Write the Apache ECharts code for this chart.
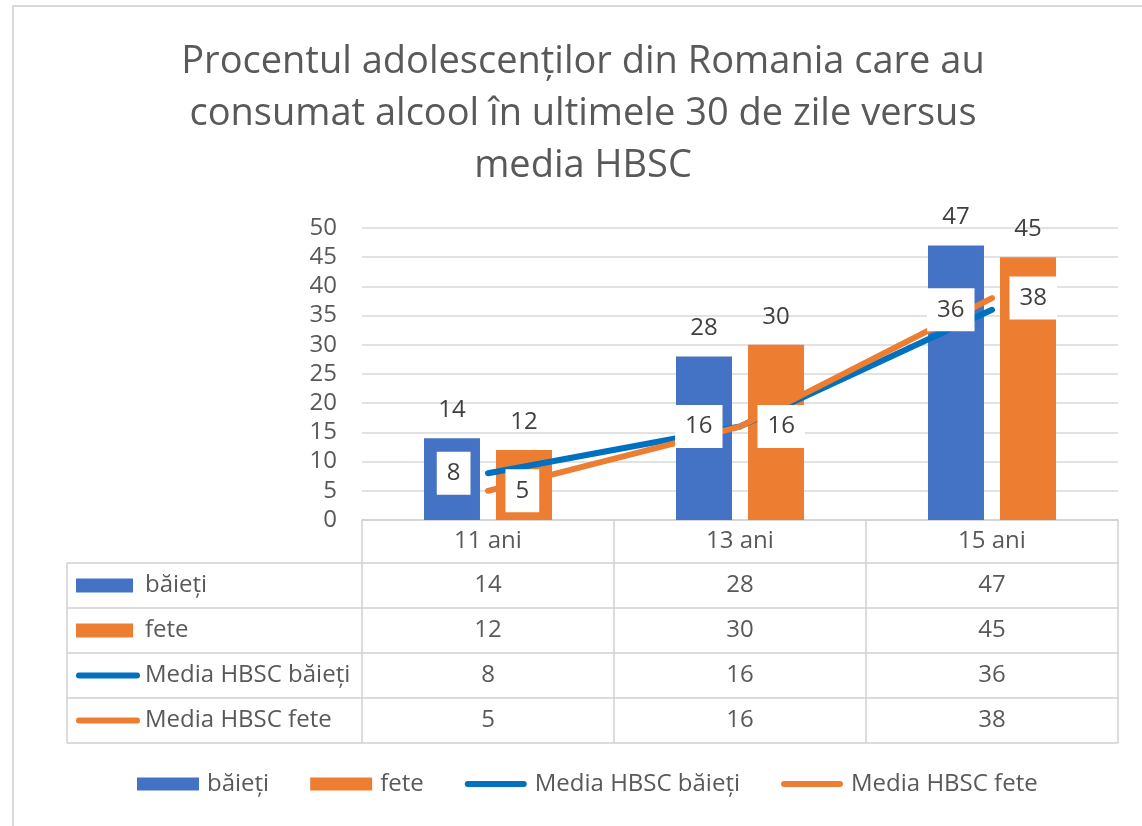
<!DOCTYPE html>
<html>
<head>
<meta charset="utf-8">
<script src="https://cdn.jsdelivr.net/npm/echarts@6/dist/echarts.min.js"></script>
<style>html,body{margin:0;padding:0;background:#fff}#c{width:1142px;height:826px}</style>
</head>
<body>
<div id="c"></div>
<script>
const titleText = 'Procentul adolescenților din Romania care au\nconsumat alcool în ultimele 30 de zile versus\nmedia HBSC';
const categories = ['11 ani', '13 ani', '15 ani'];
const seriesNames = ['băieți', 'fete', 'Media HBSC băieți', 'Media HBSC fete'];
const baieti = [14, 28, 47];
const fete = [12, 30, 45];
const hbscBaieti = [8, 16, 36];
const hbscFete = [5, 16, 38];
const yMin = 0, yMax = 50, yStep = 5;

const FONT = '"Open Sans", "Noto Sans", sans-serif';
const BLUE = '#4472C4', ORANGE = '#ED7D31', LBLUE = '#0070C0';
const GRIDC = '#D9D9D9', TBLC = '#D0D0D0', TXT = '#595959', LBL = '#404040';
const lineIcon = 'path://M0,0 M62,13 M3,3.5 h56 a3,3 0 0 1 0,6 h-56 a3,3 0 0 1 0,-6 z';

const chart = echarts.init(document.getElementById('c'));

const lineLabel = (pos) => ({
  show: true, position: pos, distance: 17, color: LBL, fontSize: 24, fontFamily: FONT,
  backgroundColor: '#fff', padding: [9, 10], lineHeight: 25
});

const option = {
  backgroundColor: '#fff',
  animation: false,
  title: {
    text: titleText, left: 583, top: 36, textAlign: 'center', padding: 0,
    textStyle: { fontSize: 38, fontWeight: 'normal', color: TXT, fontFamily: FONT, lineHeight: 52 }
  },
  grid: { left: 362, right: 24, top: 228, bottom: 306 },
  legend: {
    left: 137, top: 772, padding: 0, itemWidth: 62, itemHeight: 13, itemGap: 41,
    textStyle: { fontSize: 24, color: TXT, fontFamily: FONT, padding: [0, 0, 0, 3] },
    data: [
      { name: seriesNames[0], icon: 'rect', itemStyle: { color: BLUE } },
      { name: seriesNames[1], icon: 'rect', itemStyle: { color: ORANGE } },
      { name: seriesNames[2], icon: lineIcon, itemStyle: { color: LBLUE } },
      { name: seriesNames[3], icon: lineIcon, itemStyle: { color: ORANGE } }
    ],
    selectedMode: false
  },
  xAxis: {
    type: 'category', data: categories,
    axisLine: { lineStyle: { color: TBLC, width: 1.5 } },
    axisTick: { show: false },
    axisLabel: { margin: 9, fontSize: 24, color: TXT, fontFamily: FONT }
  },
  yAxis: {
    type: 'value', min: yMin, max: yMax, interval: yStep,
    axisLine: { show: false }, axisTick: { show: false },
    axisLabel: { margin: 25, fontSize: 24, color: TXT, fontFamily: FONT },
    splitLine: { lineStyle: { color: GRIDC, width: 1.5 } }
  },
  series: [
    { name: seriesNames[0], type: 'bar', data: baieti, barWidth: 56, barGap: '28.6%',
      itemStyle: { color: BLUE }, z: 2,
      label: { show: true, position: 'top', distance: 16, color: LBL, fontSize: 24, fontFamily: FONT } },
    { name: seriesNames[1], type: 'bar', data: fete, barWidth: 56, barGap: '28.6%',
      itemStyle: { color: ORANGE }, z: 2,
      label: { show: true, position: 'top', distance: 16, color: LBL, fontSize: 24, fontFamily: FONT } },
    { name: seriesNames[2], type: 'line', data: hbscBaieti, symbol: 'circle', symbolSize: 1,
      itemStyle: { color: LBLUE }, lineStyle: { color: LBLUE, width: 6, cap: 'round' }, z: 3,
      label: lineLabel('left') },
    { name: seriesNames[3], type: 'line', data: hbscFete, symbol: 'circle', symbolSize: 1,
      itemStyle: { color: ORANGE }, lineStyle: { color: ORANGE, width: 6, cap: 'round' }, z: 3,
      label: lineLabel('right') }
  ]
};
chart.setOption(option);

// Data table beneath the plot, positioned from the axis scales
const rows = [baieti, fete, hbscBaieti, hbscFete];
const rowColors = [BLUE, ORANGE, LBLUE, ORANGE];
const rowIsLine = [false, false, true, true];
const y0 = chart.convertToPixel({ yAxisIndex: 0 }, yMin);
const cx = categories.map((c, i) => chart.convertToPixel({ xAxisIndex: 0 }, i));
const band = cx[1] - cx[0];
const bounds = [cx[0] - band / 2].concat(cx.map(x => x + band / 2));
const headerH = 43, rowH = 45, tableLeft = 67;
const rowTop = y0 + headerH;
const tableBottom = rowTop + rowH * rows.length;
const els = [];
const ln = (x1, y1, x2, y2) => ({ type: 'line', shape: { x1, y1, x2, y2 }, style: { stroke: TBLC, lineWidth: 1.5 }, silent: true });
bounds.forEach(x => els.push(ln(x, y0, x, tableBottom)));
els.push(ln(tableLeft, rowTop, tableLeft, tableBottom));
for (let r = 0; r <= rows.length; r++) {
  const y = rowTop + r * rowH;
  els.push(ln(tableLeft, y, bounds[bounds.length - 1], y));
}
rows.forEach((vals, r) => {
  const yc = rowTop + r * rowH + rowH / 2;
  if (rowIsLine[r]) {
    els.push({ type: 'rect', shape: { x: 76, y: yc - 3, width: 64, height: 6, r: 3 }, style: { fill: rowColors[r] }, silent: true });
  } else {
    els.push({ type: 'rect', shape: { x: 76, y: yc - 7, width: 57, height: 14 }, style: { fill: rowColors[r] }, silent: true });
  }
  els.push({ type: 'text', x: 145, y: yc, style: { text: seriesNames[r], fill: TXT, font: '24px ' + FONT, textAlign: 'left', textVerticalAlign: 'middle' }, silent: true });
  vals.forEach((v, i) => {
    els.push({ type: 'text', x: cx[i], y: yc, style: { text: String(v), fill: TXT, font: '24px ' + FONT, textAlign: 'center', textVerticalAlign: 'middle' }, silent: true });
  });
});
// outer chart frame
els.push({ type: 'rect', shape: { x: 13, y: 6, width: 1200, height: 900 }, style: { fill: 'none', stroke: GRIDC, lineWidth: 2 }, silent: true, z: -1 });
chart.setOption({ graphic: els });
</script>
</body>
</html>
